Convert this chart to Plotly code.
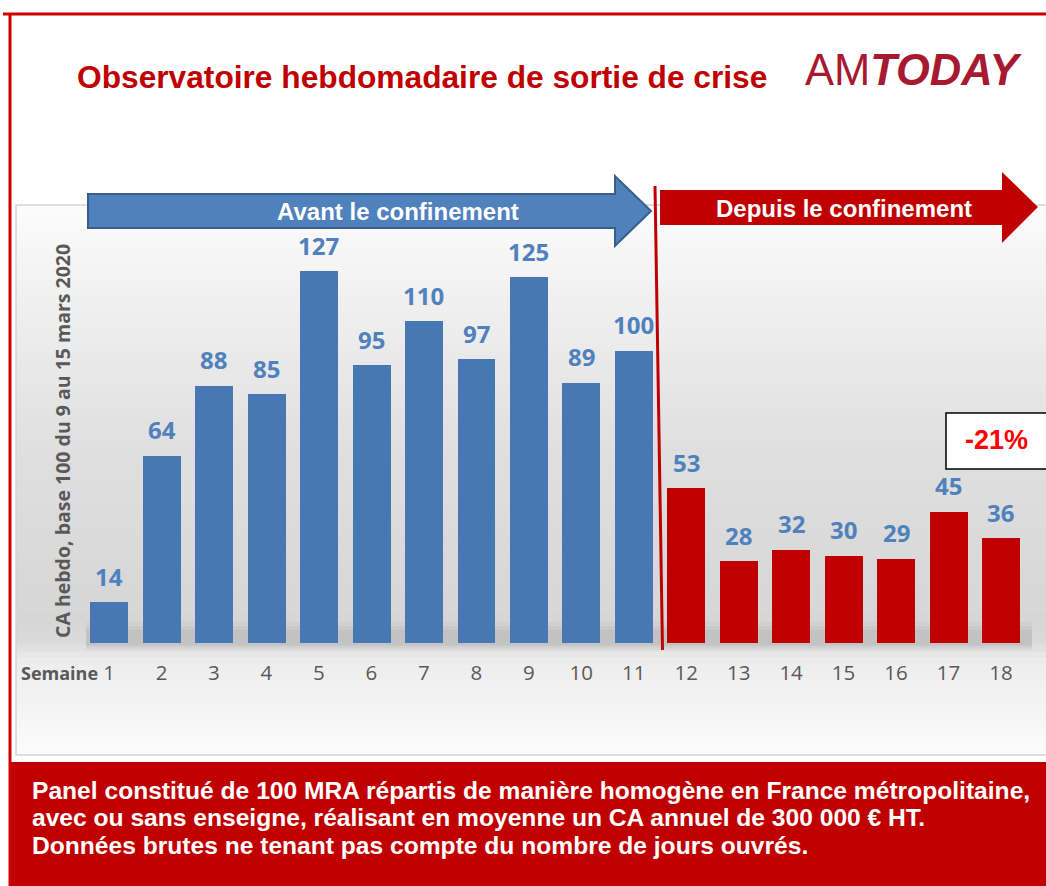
import plotly.graph_objects as go

# ---------------- data ----------------
weeks_before = [1, 2, 3, 4, 5, 6, 7, 8, 9, 10, 11]
values_before = [14, 64, 88, 85, 127, 95, 110, 97, 125, 89, 100]
weeks_after = [12, 13, 14, 15, 16, 17, 18]
values_after = [53, 28, 32, 30, 29, 45, 36]
tick_vals = list(range(1, 19))
tick_labels = [str(w) for w in tick_vals]

title_text = "Observatoire hebdomadaire de sortie de crise"
y_title = "CA hebdo, base 100 du 9 au 15 mars 2020"
x_title = "Semaine"
label_before = "Avant le confinement"
label_after = "Depuis le confinement"
change_label = "-21%"
footer_lines = [
    "Panel constitué de 100 MRA répartis de manière homogène en France métropolitaine,",
    "avec ou sans enseigne, réalisant en moyenne un CA annuel de 300 000 € HT.",
    "Données brutes ne tenant pas compte du nombre de jours ouvrés.",
]

# ---------------- layout helpers ----------------
W, H = 1046, 886


def px(x):
    return x / W


def py(y):
    return 1 - y / H


BLUE = "#4878B3"
BLUE_LABEL = "#4F81BD"
RED = "#C00000"
GREY_TXT = "#595959"
ARIAL = "Liberation Sans, Arial, sans-serif"
CAL = "Open Sans, Lato, sans-serif"

fig = go.Figure()

fig.add_trace(go.Bar(x=weeks_before, y=values_before, width=0.724,
                     marker=dict(color=BLUE, line=dict(width=0)),
                     hoverinfo="skip"))
fig.add_trace(go.Bar(x=weeks_after, y=values_after, width=0.724,
                     marker=dict(color=RED, line=dict(width=0)),
                     hoverinfo="skip"))

shapes = []
annotations = []

# panel background gradient (decoration)
stops = [(205, 252), (300, 240), (450, 223), (620, 214), (643, 218),
         (660, 236), (755, 252)]
n = 80
y0, y1 = 205, 755
for i in range(n):
    ya = y0 + (y1 - y0) * i / n
    yb = y0 + (y1 - y0) * (i + 1) / n
    ym = (ya + yb) / 2
    for (sa, ca), (sb, cb) in zip(stops[:-1], stops[1:]):
        if sa <= ym <= sb:
            c = ca + (cb - ca) * (ym - sa) / (sb - sa)
            break
    c = int(round(c))
    shapes.append(dict(type="rect", xref="paper", yref="paper", layer="below",
                       x0=px(16), x1=px(1046), y0=py(yb), y1=py(ya) + 0.0005,
                       fillcolor=f"rgb({c},{c},{c})", line=dict(width=0)))
# panel border
shapes.append(dict(type="rect", xref="paper", yref="paper", layer="below",
                   x0=px(16), x1=px(1050), y0=py(755), y1=py(205),
                   fillcolor="rgba(0,0,0,0)", line=dict(color="#D4D4D4", width=1.5)))

# soft shadow band at the base of the bars (decoration)
for k, alpha in enumerate([0.06, 0.08, 0.10]):
    shapes.append(dict(type="rect", xref="paper", yref="paper", layer="below",
                       x0=px(86), x1=px(1032), y0=py(650 - 2 * k), y1=py(622 + 4 * k),
                       fillcolor=f"rgba(120,120,120,{alpha})", line=dict(width=0)))

# footer red box
shapes.append(dict(type="rect", xref="paper", yref="paper",
                   x0=px(10), x1=px(1050), y0=py(890), y1=py(762),
                   fillcolor=RED, line=dict(width=0)))
# outer red frame
shapes.append(dict(type="line", xref="paper", yref="paper",
                   x0=px(3), x1=px(1050), y0=py(14), y1=py(14),
                   line=dict(color="#D00000", width=3)))
shapes.append(dict(type="line", xref="paper", yref="paper",
                   x0=px(10), x1=px(10), y0=py(14), y1=py(890),
                   line=dict(color="#D00000", width=3)))


def path(points):
    s = "M " + " L ".join(f"{px(x):.5f},{py(y):.5f}" for x, y in points) + " Z"
    return s


# blue arrow
shapes.append(dict(type="path", xref="paper", yref="paper",
                   path=path([(88, 194), (615, 194), (615, 176), (651, 211),
                              (615, 246), (615, 228), (88, 228)]),
                   fillcolor="#4F81BD", line=dict(color="#385D8A", width=2)))
# red arrow
shapes.append(dict(type="path", xref="paper", yref="paper",
                   path=path([(660, 190), (1002, 190), (1002, 172), (1038, 207),
                              (1002, 243), (1002, 225), (660, 225)]),
                   fillcolor=RED, line=dict(width=0)))
# separator line
shapes.append(dict(type="line", xref="paper", yref="paper",
                   x0=px(655), y0=py(186), x1=px(662.5), y1=py(650),
                   line=dict(color=RED, width=3)))
# -21% box
shapes.append(dict(type="rect", xref="paper", yref="paper",
                   x0=px(946), x1=px(1052), y0=py(469), y1=py(413),
                   fillcolor="white", line=dict(color="black", width=1.5)))

# data labels
for xs, vs in ((weeks_before, values_before), (weeks_after, values_after)):
    for xv, v in zip(xs, vs):
        annotations.append(dict(x=xv, y=v, xref="x", yref="y", text=f"<b>{v}</b>",
                                showarrow=False, xanchor="center", yanchor="bottom",
                                yshift=7,
                                font=dict(family=CAL, size=24, color=BLUE_LABEL)))


def txt(x, y, text, size, color, family=ARIAL, xanchor="center", **kw):
    return dict(x=px(x), y=py(y), xref="paper", yref="paper", text=text,
                showarrow=False, xanchor=xanchor, yanchor="middle",
                font=dict(family=family, size=size, color=color), **kw)


annotations += [
    txt(422, 77, f"<b>{title_text}</b>", 31.7, RED),
    txt(803, 70, "AM<b><i>TODAY</i></b>", 43.5, "#A71930", xanchor="left"),
    txt(398, 211, f"<b>{label_before}</b>", 24, "white"),
    txt(844, 208, f"<b>{label_after}</b>", 24, "white"),
    txt(996, 440, f"<b>{change_label}</b>", 27, "#FF0000"),
    txt(62, 441, f"<b>{y_title}</b>", 19.5, GREY_TXT, family=CAL, textangle=-90),
    txt(100, 673, f"<b>{x_title}</b>", 18, GREY_TXT, family=CAL, xanchor="right"),
]
for line, yc in zip(footer_lines, [790, 817, 845]):
    annotations.append(txt(30, yc, f"<b>{line}</b>", 24.6, "white", xanchor="left"))

fig.update_layout(
    width=W, height=H,
    margin=dict(l=0, r=0, t=0, b=0, pad=0, autoexpand=False),
    paper_bgcolor="white", plot_bgcolor="rgba(0,0,0,0)",
    showlegend=False, bargap=0,
    shapes=shapes, annotations=annotations,
    xaxis=dict(domain=[px(82.8), px(1027.2)], range=[0.5, 18.5],
               tickvals=tick_vals, ticktext=tick_labels,
               ticks="outside", ticklen=11, tickcolor="rgba(0,0,0,0)",
               tickfont=dict(family=CAL, size=20.5, color=GREY_TXT),
               showgrid=False, zeroline=False, showline=False, fixedrange=True),
    yaxis=dict(domain=[py(643), py(203.5)], range=[0, 150],
               showticklabels=False, showgrid=False, zeroline=False,
               showline=False, fixedrange=True),
)

fig.write_html("out.html", config={"displayModeBar": False},
               post_script="document.body.style.margin='0';"
                           "document.body.style.overflow='hidden';")
